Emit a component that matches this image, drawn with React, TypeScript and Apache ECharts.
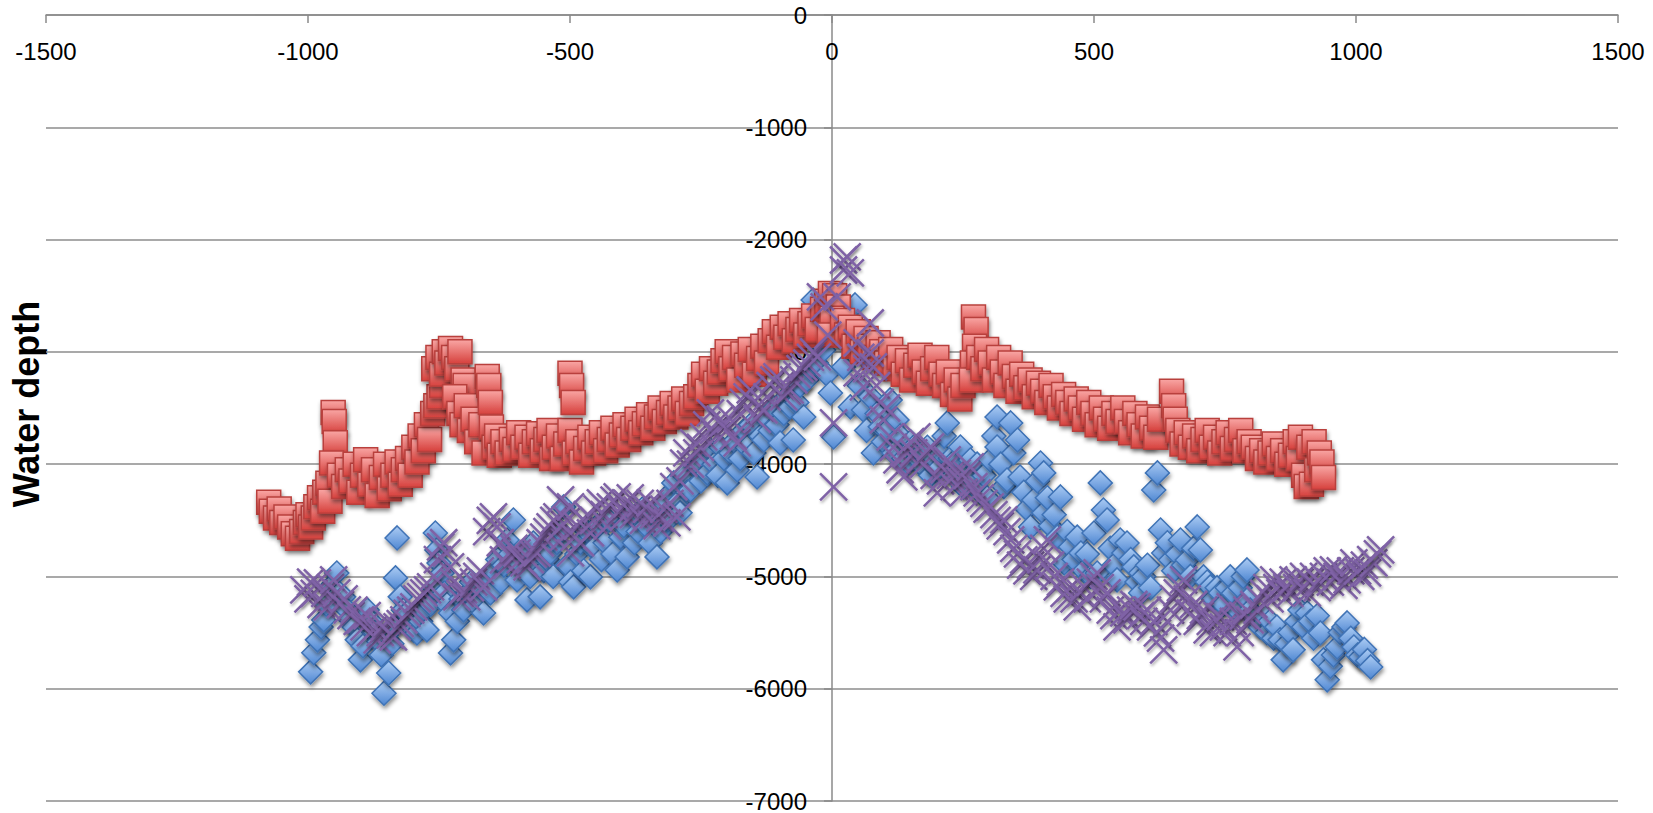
import React, { useEffect, useRef } from "react";
import * as echarts from "echarts";

const xTicks = { min: -1500, max: 1500, interval: 500 };
const yTicks = { min: -7000, max: 0, interval: 1000 };
const yTitle = "Water depth";

const blueDiamonds: number[][] = [
  [-995,-5850],[-989,-5680],[-982,-5565],[-975,-5450],[-970,-5387],[-965,-5250],[-957,-5093],[-945,-4970],[-940,-5150],[-932,-5182],
  [-925,-5300],[-919,-5387],[-912,-5450],[-906,-5565],[-900,-5743],[-895,-5620],[-887,-5298],[-880,-5400],[-872,-5500],[-865,-5580],
  [-860,-5700],[-855,-6040],[-846,-5860],[-840,-5600],[-835,-5450],[-833,-5013],[-830,-4657],[-824,-5182],[-818,-5300],[-811,-5325],
  [-805,-5420],[-798,-5480],[-792,-5503],[-785,-5400],[-779,-5300],[-773,-5476],[-766,-5250],[-760,-5100],[-757,-4613],[-754,-4764],
  [-750,-4880],[-744,-4970],[-740,-5150],[-735,-5250],[-728,-5681],[-722,-5565],[-728,-5325],[-715,-5400],[-708,-5200],[-703,-5298],
  [-695,-5150],[-688,-5050],[-680,-5250],[-672,-5100],[-665,-5325],[-658,-5000],[-652,-5147],[-645,-4950],[-638,-4850],[-632,-5050],
  [-626,-4900],[-620,-4675],[-614,-4800],[-608,-4497],[-601,-5031],[-595,-4900],[-588,-4780],[-582,-5209],[-576,-5000],[-570,-4702],
  [-563,-4880],[-557,-5182],[-550,-4950],[-544,-4850],[-538,-4791],[-532,-5000],[-525,-4700],[-518,-4600],[-512,-4381],
  [-505,-4900],[-499,-5050],[-493,-5093],[-487,-4800],[-480,-4700],[-474,-4950],[-468,-4600],[-461,-5004],[-455,-4750],[-448,-4550],
  [-440,-4850],[-433,-4700],[-426,-4500],[-418,-4800],[-410,-4942],[-403,-4650],[-397,-4550],[-391,-4826],[-384,-4450],[-377,-4700],
  [-370,-4600],[-362,-4400],[-355,-4550],[-347,-4702],[-340,-4450],[-334,-4826],[-327,-4600],[-320,-4350],[-313,-4500],[-307,-4250],
  [-302,-4167],[-296,-4350],[-290,-4434],[-283,-4100],[-276,-4250],[-270,-4230],[-263,-4000],[-257,-4025],[-250,-4150],[-244,-3950],
  [-238,-4080],[-232,-3874],[-225,-4000],[-218,-4100],[-212,-3850],[-206,-3950],[-200,-4167],[-193,-3900],[-187,-3800],[-181,-4052],
  [-175,-3950],[-168,-3700],[-162,-3850],[-155,-3650],[-149,-3900],[-143,-4114],[-136,-3750],[-130,-3785],[-124,-3600],[-118,-3700],
  [-111,-3500],[-105,-3650],[-99,-3811],[-92,-3550],[-86,-3400],[-80,-3490],[-74,-3785],[-67,-3450],[-61,-3300],[-54,-3580],
  [-48,-3250],[-42,-3150],[-36,-2538],[-30,-3100],[-24,-2950],[-16,-2983],[-10,-3200],[-3,-3366],[3,-3758],
  [22,-3134],[35,-3490],[44,-2582],[52,-3300],[60,-3517],[66,-3700],[73,-3400],[79,-3900],[86,-3550],[92,-3668],
  [98,-3800],[105,-3700],[111,-3428],[118,-3900],[124,-3606],[130,-3750],[137,-3950],[143,-4000],[150,-3800],[156,-3847],
  [163,-3950],[170,-3900],[175,-4025],[182,-3850],[188,-4100],[195,-3950],[201,-4050],[208,-3900],[214,-3750],[220,-3633],
  [226,-3950],[232,-4100],[239,-3950],[245,-3847],[251,-4203],[258,-4050],[264,-3963],[270,-4150],[277,-4000],[283,-4250],
  [290,-4100],[296,-4300],[302,-3963],[309,-3750],[315,-3580],[315,-3847],[322,-4000],[328,-4200],[334,-4141],[341,-3633],
  [347,-3900],[354,-3785],[359,-4114],[366,-4250],[372,-4400],[379,-4559],[385,-4319],[392,-4150],[398,-3990],[404,-4078],
  [404,-4434],[411,-4300],[417,-4550],[424,-4450],[430,-4648],[436,-4292],[443,-4880],[449,-4600],[455,-4737],[462,-4850],
  [468,-4650],[475,-4791],[481,-4950],[487,-4800],[494,-5000],[500,-4613],[506,-4969],[512,-4167],[518,-4408],[525,-4497],
  [531,-4750],[538,-4900],[544,-5031],[550,-4675],[557,-4791],[563,-4702],[570,-4850],[576,-4915],[582,-5050],[589,-4969],
  [589,-5147],[595,-5000],[602,-4900],[608,-5100],[614,-4230],[621,-4078],[627,-4586],[633,-4791],[640,-4700],[646,-4853],
  [652,-4950],[659,-4800],[665,-4675],[671,-4900],[678,-4853],[684,-5000],[690,-4750],[697,-4559],[703,-4764],[709,-5004],
  [716,-5050],[722,-5093],[728,-5200],[735,-5100],[741,-5147],[747,-5250],[754,-5100],[760,-5004],[766,-5150],[773,-5300],
  [779,-5100],[785,-5000],[792,-4942],[792,-5209],[798,-5300],[805,-5350],[811,-5400],[817,-5450],[823,-5350],[830,-5500],
  [836,-5400],[843,-5550],[849,-5450],[855,-5565],[861,-5743],[868,-5600],[874,-5500],[880,-5654],[887,-5400],[893,-5300],
  [900,-5450],[907,-5325],[913,-5400],[919,-5550],[926,-5350],[932,-5503],[938,-5743],[945,-5921],[951,-5800],[957,-5700],
  [964,-5628],[970,-5500],[977,-5450],[983,-5414],[990,-5550],[996,-5628],[1003,-5700],[1009,-5717],[1016,-5650],[1022,-5750],
  [1028,-5806]
];

const redSquares: number[][] = [
  [-1075,-4340],[-1070,-4420],[-1062,-4480],[-1055,-4400],[-1050,-4520],[-1042,-4470],[-1035,-4560],[-1028,-4620],[-1020,-4660],[-1012,-4600],
  [-1005,-4520],[-1000,-4450],[-995,-4560],[-990,-4480],[-985,-4380],[-978,-4300],[-972,-4420],[-968,-4250],[-962,-4170],[-958,-4330],
  [-952,-3540],[-950,-3620],[-948,-3810],[-955,-3990],
  [-940,-4100],[-932,-4200],[-925,-4050],[-918,-4150],[-910,-4000],[-903,-4250],[-896,-4100],[-890,-3960],[-882,-4180],[-875,-4050],
  [-868,-4280],[-860,-4120],[-852,-4000],[-845,-4220],[-838,-4100],[-830,-3980],[-824,-4180],
  [-818,-4050],[-810,-3950],[-805,-4100],[-798,-3850],[-792,-3980],[-786,-3750],[-780,-3880],[-774,-3650],[-768,-3780],[-762,-3550],
  [-756,-3480],[-750,-3400],[-745,-3300],
  [-760,-3150],[-752,-3050],[-745,-3200],[-740,-3000],[-735,-3100],[-728,-2970],[-722,-3050],[-716,-3150],[-710,-3000],[-704,-3250],[-700,-3300],
  [-720,-3400],[-712,-3550],[-706,-3650],[-698,-3480],[-692,-3700],[-685,-3600],[-678,-3800],[-670,-3650],[-664,-3900],[-658,-3220],
  [-655,-3300],[-652,-3450],[-650,-3670],[-645,-3850],[-640,-3750],[-635,-3920],
  [-628,-3800],[-620,-3900],[-612,-3780],[-605,-3870],[-598,-3720],[-590,-3850],[-582,-3760],[-575,-3920],[-568,-3800],[-560,-3730],
  [-553,-3880],[-546,-3780],[-540,-3700],[-535,-3950],
  [-530,-3850],[-522,-3750],[-515,-3950],[-508,-3820],[-500,-3700],[-492,-3900],[-485,-3800],[-478,-3980],[-470,-3860],[-462,-3760],
  [-455,-3900],[-448,-3800],[-440,-3720],[-432,-3880],[-425,-3780],[-418,-3680],[-410,-3830],
  [-500,-3190],[-497,-3300],[-494,-3450],
  [-402,-3740],[-395,-3650],[-388,-3780],[-380,-3680],[-372,-3600],[-365,-3720],[-358,-3640],[-350,-3560],[-342,-3680],[-335,-3580],
  [-328,-3500],[-320,-3620],[-312,-3540],[-305,-3460],[-298,-3580],[-290,-3500],[-283,-3420],[-276,-3550],[-268,-3460],[-260,-3400],
  [-252,-3300],[-245,-3200],[-238,-3350],[-230,-3150],[-222,-3280],[-215,-3180],[-208,-3080],
  [-200,-3000],[-193,-3150],[-186,-3050],[-178,-3250],[-170,-3020],[-163,-3120],[-156,-2980],[-148,-3200],[-140,-3060],[-132,-2950],[-125,-3100],
  [-118,-2900],[-110,-2820],[-102,-2960],[-95,-2780],[-88,-2870],[-80,-2750],[-72,-2900],[-65,-2800],[-58,-2720],[-50,-2850],
  [-42,-2750],[-35,-2680],[-28,-2800],
  [-18,-2620],[-10,-2550],[-3,-2480],[5,-2500],[12,-2600],[0,-2700],[-5,-2850],
  [20,-2720],[28,-2850],[35,-2780],[42,-2950],[50,-2820],[58,-3000],[65,-2880],[72,-2950],[80,-3050],[88,-2920],[95,-3000],
  [104,-3100],[112,-2980],[120,-3150],[128,-3050],[136,-3200],[144,-3080],[152,-3250],[160,-3120],[168,-3030],[176,-3180],
  [184,-3280],[192,-3150],[200,-3050],
  [208,-3200],[215,-3300],[222,-3180],[230,-3380],[237,-3250],[244,-3420],[250,-3300],
  [270,-2690],[275,-2800],[272,-2950],[268,-3100],[266,-3250],
  [280,-3050],[288,-3150],[295,-2980],[302,-3100],[310,-3250],[318,-3050],[325,-3180],[332,-3300],[340,-3100],[348,-3220],[355,-3350],
  [362,-3200],[370,-3320],[378,-3250],[386,-3400],[394,-3280],[402,-3350],[410,-3450],[418,-3300],[426,-3400],[434,-3500],
  [442,-3380],[450,-3450],[458,-3550],[466,-3420],[474,-3500],[482,-3600],[490,-3450],[498,-3550],[506,-3650],[514,-3500],
  [522,-3600],[530,-3680],[538,-3550],[546,-3620],
  [555,-3500],[562,-3620],[570,-3720],[578,-3550],[586,-3650],[594,-3750],[602,-3580],[610,-3680],[618,-3760],[625,-3600],
  [648,-3350],[652,-3480],[655,-3600],
  [660,-3700],[668,-3820],[676,-3720],[684,-3850],[692,-3750],[700,-3880],[708,-3780],[716,-3700],[724,-3850],[732,-3760],
  [740,-3900],[748,-3800],[756,-3720],[764,-3860],[772,-3780],[780,-3700],[788,-3880],[796,-3800],
  [804,-3850],[812,-3950],[820,-3880],[828,-3980],[836,-3900],[844,-3820],[852,-3950],[860,-3880],[868,-4000],[875,-3920],
  [884,-3800],[890,-3950],[894,-3760],[900,-4100],[905,-4200],[910,-3850],[915,-4180],[920,-3800],[925,-4050],[930,-3900],
  [935,-3980],[938,-4120]
];

const purpleCrosses: number[][] = [
  [-1008,-5120],[-1000,-5200],[-995,-5050],[-988,-5150],[-982,-5058],[-975,-5250],[-968,-5150],[-963,-5272],[-957,-5100],[-951,-5031],
  [-945,-5147],[-938,-5250],[-931,-5200],[-925,-5298],[-918,-5350],[-912,-5300],[-906,-5400],[-900,-5387],[-893,-5450],[-887,-5350],
  [-881,-5500],[-875,-5476],[-868,-5565],[-862,-5500],[-855,-5450],[-849,-5400],[-843,-5520],[-837,-5539],[-830,-5450],[-824,-5420],
  [-817,-5387],[-811,-5330],[-804,-5300],[-798,-5272],[-792,-5200],[-785,-5180],[-779,-5147],[-772,-5120],[-766,-5093],[-760,-5000],
  [-753,-4850],[-747,-4737],[-741,-4700],[-735,-4791],[-728,-4915],[-722,-5050],[-716,-5182],[-710,-5150],[-703,-5120],[-697,-5182],
  [-690,-5100],[-684,-5050],[-678,-5000],[-671,-4950],[-665,-5093],[-659,-4600],[-652,-4500],[-646,-4470],[-639,-4559],[-633,-4700],
  [-627,-4853],[-620,-4900],[-614,-4820],[-607,-4750],[-601,-4791],[-595,-4850],[-588,-4880],[-582,-4915],[-576,-4850],[-570,-4800],
  [-563,-4791],[-557,-4700],[-550,-4650],[-544,-4600],[-538,-4559],[-531,-4500],[-525,-4470],[-518,-4319],[-512,-4648],[-518,-4559],
  [-505,-4500],[-499,-4381],[-499,-4791],[-492,-4650],[-486,-4550],[-480,-4700],[-474,-4500],[-467,-4450],[-461,-4613],[-455,-4500],
  [-448,-4400],[-442,-4345],[-435,-4450],[-429,-4550],[-423,-4380],[-416,-4320],[-410,-4292],[-404,-4400],[-398,-4470],[-391,-4350],
  [-385,-4300],[-379,-4450],[-372,-4408],[-366,-4350],[-360,-4500],[-353,-4400],[-347,-4345],[-340,-4450],[-334,-4550],[-328,-4480],
  [-321,-4400],[-315,-4524],[-309,-4350],[-302,-4200],[-296,-4470],[-290,-4150],[-283,-3990],[-277,-3900],[-270,-4000],[-264,-3811],
  [-258,-3900],[-251,-3850],[-245,-3758],[-239,-3650],[-232,-3544],[-226,-3700],[-220,-3750],[-213,-3600],[-207,-3633],[-200,-3700],
  [-194,-3600],[-188,-3750],[-181,-3811],[-175,-3550],[-169,-3450],[-162,-3400],[-156,-3339],[-150,-3450],[-143,-3600],[-137,-3500],
  [-130,-3517],[-124,-3400],[-118,-3300],[-111,-3250],[-105,-3223],[-99,-3300],[-92,-3400],[-86,-3350],[-80,-3339],[-73,-3250],
  [-67,-3200],[-61,-3150],[-54,-3134],[-48,-3100],[-41,-3050],[-35,-3000],[-28,-3045],[-22,-2511],[-15,-2600],[-8,-2850],
  [3,-3633],[3,-4203],[22,-2271],[22,-2182],[29,-2155],[35,-2297],[10,-2511],
  [48,-2920],[48,-3188],[55,-3050],[60,-3312],[66,-3150],[73,-2743],[73,-3010],[79,-3134],[85,-3300],[92,-3450],
  [98,-3606],[104,-3500],[111,-3758],[117,-3850],[124,-3963],[130,-4050],[137,-4114],[143,-3900],[150,-3800],[156,-3900],
  [162,-3758],[169,-3950],[175,-4000],[182,-3900],[188,-3847],[195,-4100],[201,-4256],[207,-4150],[214,-4050],[220,-3963],
  [226,-4100],[233,-4200],[239,-4078],[245,-4150],[252,-4250],[258,-4100],[264,-4025],[271,-4200],[277,-4256],[283,-4300],
  [290,-4350],[296,-4400],[302,-4381],[309,-4450],[315,-4500],[321,-4550],[328,-4497],[334,-4600],[341,-4675],[347,-4750],
  [354,-4800],[360,-4900],[366,-4853],[372,-4950],[379,-4900],[385,-5000],[391,-4942],[398,-4850],[404,-4750],[411,-4675],
  [417,-4900],[424,-5000],[430,-5093],[436,-5050],[443,-5150],[449,-5200],[455,-5100],[462,-5200],[468,-5272],[474,-5150],
  [481,-5093],[487,-5200],[493,-5050],[500,-5000],[506,-4969],[512,-5100],[518,-5200],[525,-5147],[531,-5300],[538,-5350],
  [544,-5450],[550,-5300],[557,-5325],[563,-5387],[570,-5300],[576,-5250],[582,-5272],[589,-5350],[595,-5400],[602,-5300],
  [608,-5450],[614,-5400],[621,-5503],[627,-5550],[633,-5654],[640,-5400],[646,-5300],[652,-5200],[659,-5147],[665,-5100],
  [671,-5031],[678,-5200],[684,-5325],[690,-5250],[697,-5400],[703,-5350],[709,-5300],[716,-5476],[722,-5400],[728,-5500],
  [735,-5350],[741,-5360],[747,-5450],[754,-5500],[760,-5272],[766,-5400],[773,-5628],[779,-5500],[785,-5350],[792,-5300],
  [798,-5387],[805,-5250],[811,-5300],[817,-5209],[824,-5150],[830,-5100],[836,-5200],[843,-5031],[849,-5100],[855,-5147],
  [861,-5050],[868,-5100],[874,-5150],[880,-5031],[887,-5100],[893,-5050],[900,-5000],[907,-5147],[913,-5050],[919,-5000],
  [926,-5100],[932,-5058],[938,-5000],[945,-4950],[951,-5050],[957,-4942],[964,-5000],[970,-4950],[977,-5080],[983,-5031],
  [990,-4950],[996,-4880],[1003,-4950],[1009,-5000],[1016,-4900],[1022,-4969],[1028,-4850],[1034,-4880],[1041,-4800],[1047,-4764]
];

const FONT = '"Liberation Sans", Arial, sans-serif';
const GRID = { left: 46, right: 35, top: 15, bottom: 12 };
const WIDTH = 1653;
const HEIGHT = 813;

export default function App() {
  const ref = useRef<HTMLDivElement>(null);
  useEffect(() => {
    document.body.style.margin = "0";
    if (!ref.current) return;
    const chart = echarts.init(ref.current, null, { renderer: "svg" });
    const plotW = WIDTH - GRID.left - GRID.right;
    // shift the y axis from the left edge to x = 0
    const zeroOffset = -plotW * ((0 - xTicks.min) / (xTicks.max - xTicks.min));
    const shadow = {
      shadowBlur: 4,
      shadowOffsetX: 1,
      shadowOffsetY: 3,
      shadowColor: "rgba(0,0,0,0.45)",
    };
    chart.setOption({
      animation: false,
      backgroundColor: "#ffffff",
      grid: { ...GRID, containLabel: false, outerBoundsMode: "none" },
      xAxis: {
        type: "value",
        position: "top",
        min: xTicks.min,
        max: xTicks.max,
        interval: xTicks.interval,
        axisLine: { show: true, onZero: false, lineStyle: { color: "#8a8a8a", width: 1.5 } },
        axisTick: { show: true, inside: true, length: 8, lineStyle: { color: "#8a8a8a", width: 1.5 } },
        axisLabel: {
          inside: true, margin: 24, color: "#000", fontSize: 24, fontFamily: FONT,
          formatter: (v: number) => String(v),
        },
        splitLine: { show: false },
      },
      yAxis: {
        type: "value",
        position: "left",
        offset: zeroOffset,
        min: yTicks.min,
        max: yTicks.max,
        interval: yTicks.interval,
        axisLine: { show: true, onZero: false, lineStyle: { color: "#8a8a8a", width: 1.5 } },
        axisTick: { show: true, length: 8, lineStyle: { color: "#8a8a8a", width: 1.5 } },
        axisLabel: {
          margin: 25, color: "#000", fontSize: 24, fontFamily: FONT,
          formatter: (v: number) => String(v),
        },
        splitLine: { show: true, lineStyle: { color: "#8c8c8c", width: 1.5 } },
      },
      graphic: [
        {
          type: "text",
          x: 26,
          y: 404,
          rotation: Math.PI / 2,
          style: {
            text: yTitle,
            font: 'bold 36px "Liberation Sans", Arial, sans-serif',
            fill: "#000",
            textAlign: "center",
            textVerticalAlign: "middle",
          },
        },
      ],
      series: [
        {
          name: "blue",
          type: "scatter",
          symbol: "diamond",
          symbolSize: 24,
          data: blueDiamonds,
          itemStyle: {
            color: {
              type: "linear", x: 0, y: 0, x2: 0, y2: 1,
              colorStops: [
                { offset: 0, color: "#acccf4" },
                { offset: 1, color: "#4f87d2" },
              ],
            },
            borderColor: "#3f73b6",
            borderWidth: 1.5,
            opacity: 1,
            ...shadow,
          },
        },
        {
          name: "red",
          type: "scatter",
          symbol: "rect",
          symbolSize: 24,
          data: redSquares,
          itemStyle: {
            color: {
              type: "linear", x: 0, y: 0, x2: 0, y2: 1,
              colorStops: [
                { offset: 0, color: "#f9a6a4" },
                { offset: 1, color: "#d6403c" },
              ],
            },
            borderColor: "#b9403d",
            borderWidth: 1.5,
            opacity: 1,
            ...shadow,
          },
        },
        {
          name: "purple",
          type: "scatter",
          symbol: "path://M0,0L10,10M10,0L0,10",
          symbolSize: 27,
          data: purpleCrosses,
          itemStyle: {
            color: "rgba(0,0,0,0)",
            borderColor: "#7f62a6",
            borderWidth: 2.5,
            opacity: 1,
            shadowBlur: 3,
            shadowOffsetX: 1,
            shadowOffsetY: 2,
            shadowColor: "rgba(0,0,0,0.35)",
          },
        },
      ],
    });
    return () => chart.dispose();
  }, []);
  return (
    <div
      ref={ref}
      style={{ width: WIDTH, height: HEIGHT, overflow: "hidden", background: "#fff" }}
    />
  );
}
